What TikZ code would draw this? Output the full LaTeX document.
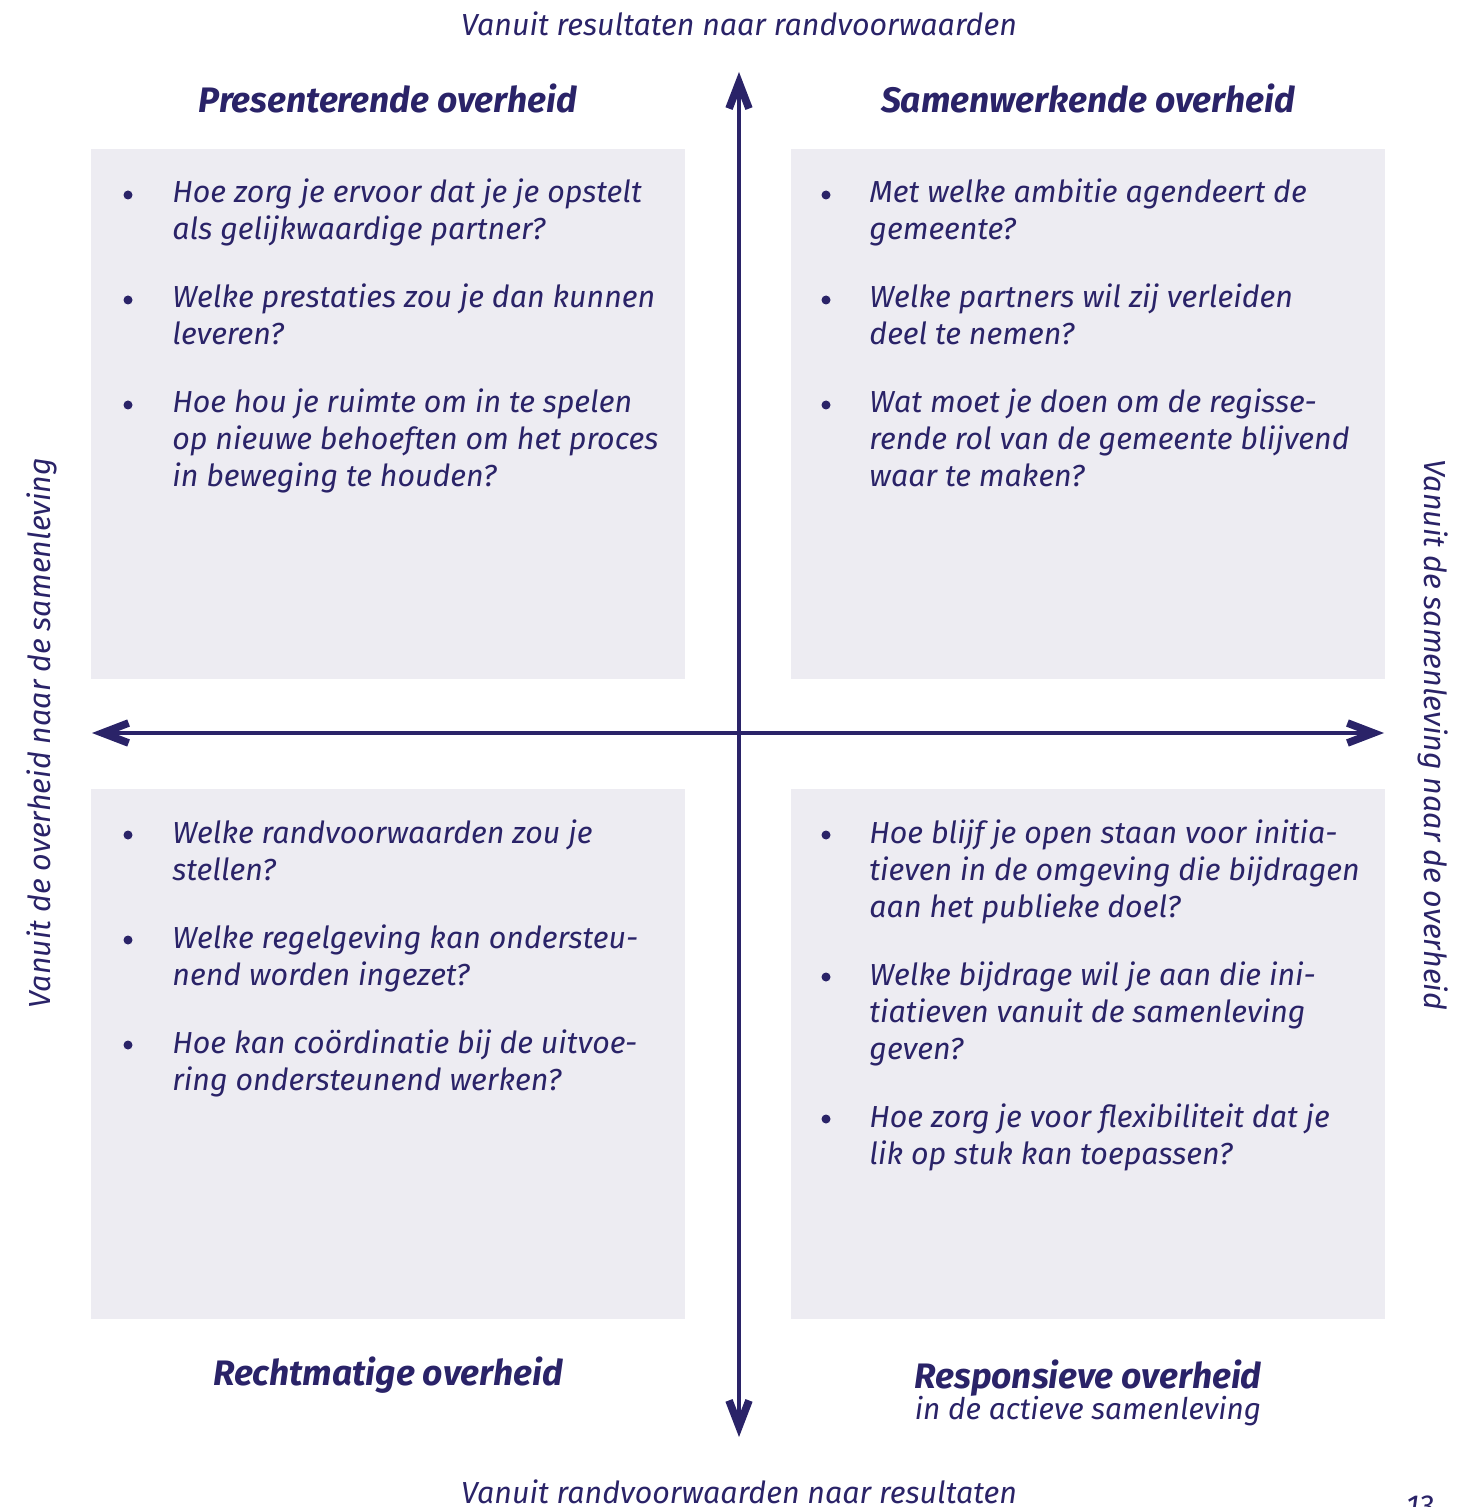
\documentclass[tikz,border=0pt]{standalone}
\usepackage{fontspec}
\setmainfont{Fira Sans}
\usetikzlibrary{arrows.meta}
\definecolor{navy}{RGB}{42,35,104}
\definecolor{panel}{RGB}{237,236,242}
\begin{document}
\begin{tikzpicture}[x=0.5pt,y=-0.5pt,
  panelbox/.style={fill=panel, draw=none},
  tip/.tip={Straight Barb[length=13pt,width=10pt,line width=3.8pt]},
  axis/.style={draw=navy, line width=2pt, tip-tip},
  % the base anchor of a multi-line node sits on its last line
  item/.style={anchor=base west, inner sep=0pt, align=left, text=navy,
    font=\itshape\fontsize{15.2}{18.5}\selectfont},
  dot/.style={circle, fill=navy, inner sep=0pt, minimum size=4.5pt},
  title/.style={anchor=base, text=navy, inner sep=0pt,
    font=\bfseries\itshape\fontsize{17.7}{20}\selectfont},
  subtitle/.style={anchor=base, text=navy, inner sep=0pt,
    font=\itshape\fontsize{14.9}{17}\selectfont},
  axislabel/.style={text=navy, inner sep=0pt,
    font=\itshape\fontsize{15.2}{18}\selectfont}]
\useasboundingbox (0,0) rectangle (1465,1507);

% quadrant panels
\fill[panelbox] (91,149) rectangle (685,679);
\fill[panelbox] (791,149) rectangle (1385,679);
\fill[panelbox] (91,789) rectangle (685,1319);
\fill[panelbox] (791,789) rectangle (1385,1319);

% axes
\coordinate (top) at (739,72);
\coordinate (bottom) at (739,1437);
\coordinate (left) at (92,733);
\coordinate (right) at (1384,733);
\draw[axis] (top) -- (bottom);
\draw[axis] (left) -- (right);

% axis labels
\node[axislabel, anchor=base] (ltop) at (739,36) {Vanuit resultaten naar randvoorwaarden};
\node[axislabel, anchor=base] (lbottom) at (739,1503) {Vanuit randvoorwaarden naar resultaten};
\node[axislabel, rotate=90] (lleft) at (42,733) {Vanuit de overheid naar de samenleving};
\node[axislabel, rotate=-90] (lright) at (1433,735) {Vanuit de samenleving naar de overheid};
\node[axislabel, anchor=base] (page) at (1420,1516) {13};

% quadrant titles
\node[title] (tpres) at (388,113) {Presenterende overheid};
\node[title] (tsam) at (1088,113) {Samenwerkende overheid};
\node[title] (trecht) at (388,1385) {Rechtmatige overheid};
\node[title] (tresp) at (1088,1388) {Responsieve overheid};
\node[subtitle] (tresp2) at (1088,1419) {in de actieve samenleving};

% top left
\node[dot] (d11) at (128,195) {};
\node[item] (q11) at (172,240) {Hoe zorg je ervoor dat je je opstelt\\als gelijkwaardige partner?};
\node[dot] (d12) at (128,300) {};
\node[item] (q12) at (172,345) {Welke prestaties zou je dan kunnen\\leveren?};
\node[dot] (d13) at (128,405) {};
\node[item] (q13) at (172,487) {Hoe hou je ruimte om in te spelen\\op nieuwe behoeften om het proces\\in beweging te houden?};

% top right
\node[dot] (d21) at (826,195) {};
\node[item] (q21) at (869,240) {Met welke ambitie agendeert de\\gemeente?};
\node[dot] (d22) at (826,300) {};
\node[item] (q22) at (869,345) {Welke partners wil zij verleiden\\deel te nemen?};
\node[dot] (d23) at (826,405) {};
\node[item] (q23) at (869,487) {Wat moet je doen om de regisse-\\rende rol van de gemeente blijvend\\waar te maken?};

% bottom left
\node[dot] (d31) at (128,835) {};
\node[item] (q31) at (172,880) {Welke randvoorwaarden zou je\\stellen?};
\node[dot] (d32) at (128,940) {};
\node[item] (q32) at (172,985) {Welke regelgeving kan ondersteu-\\nend worden ingezet?};
\node[dot] (d33) at (128,1045) {};
\node[item] (q33) at (172,1090) {Hoe kan coördinatie bij de uitvoe-\\ring ondersteunend werken?};

% bottom right
\node[dot] (d41) at (826,835) {};
\node[item] (q41) at (869,917) {Hoe blijf je open staan voor initia-\\tieven in de omgeving die bijdragen\\aan het publieke doel?};
\node[dot] (d42) at (826,977) {};
\node[item] (q42) at (869,1059) {Welke bijdrage wil je aan die ini-\\tiatieven vanuit de samenleving\\geven?};
\node[dot] (d43) at (826,1119) {};
\node[item] (q43) at (869,1164) {Hoe zorg je voor flexibiliteit dat je\\lik op stuk kan toepassen?};
\end{tikzpicture}
\end{document}
